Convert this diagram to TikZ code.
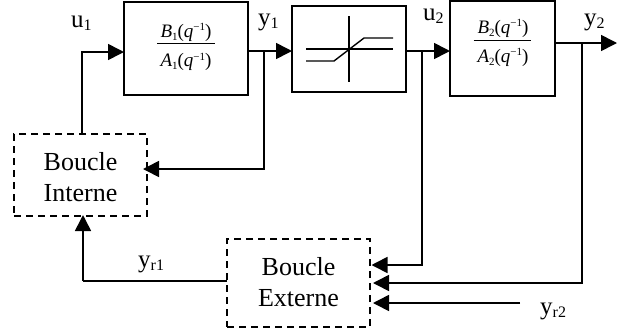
\documentclass[tikz,border=0pt]{standalone}
\usepackage{fontspec}
\setmainfont{Liberation Serif}
\usetikzlibrary{arrows.meta,calc}
\newcommand{\lowtxt}[1]{\raisebox{-3.2pt}{\fontsize{16}{16}\selectfont #1}}
\newcommand{\tf}[2]{{\fontsize{19}{20}\selectfont\itshape #1\raisebox{-3pt}{\upshape\fontsize{11}{12}\selectfont #2}\upshape(\itshape q\upshape\raisebox{6.5pt}{\fontsize{11}{12}\selectfont −1})}}
\tikzset{
  x=1pt,y=-1pt,
  solidbox/.style={draw,line width=1.5pt,minimum width=#1,inner sep=0pt,outer sep=0pt},
  dashbox/.style={draw,line width=1.5pt,dash pattern=on 7pt off 5pt,inner sep=0pt,outer sep=0pt},
  boxtxt/.style={inner sep=0pt,anchor=base,font=\fontsize{26}{30}\selectfont},
  conn/.style={line width=1.6pt},
  arr/.style={line width=1.6pt,-{Triangle[length=16pt,width=16pt]}},
  lab/.style={inner sep=0pt,anchor=base west,font=\fontsize{25}{28}\selectfont},
  fracpart/.style={inner sep=0pt,anchor=base},
}
\begin{document}
\begin{tikzpicture}
\useasboundingbox (0,0) rectangle (632,333);
\node[solidbox=124pt,minimum height=93pt] (b1) at (186,48.5) {};
\node[solidbox=114pt,minimum height=86pt] (b2) at (349,49) {};
\node[solidbox=105pt,minimum height=95pt] (b3) at (502.5,48.5) {};
\node[dashbox,minimum width=133pt,minimum height=82pt] (bi) at (80.5,175) {};
\node[dashbox,minimum width=143pt,minimum height=88pt] (be) at (298.5,283) {};
\node[boxtxt] (t1) at (80.5,170) {Boucle};
\node[boxtxt] (t2) at (80.5,201) {Interne};
\node[boxtxt] (t3) at (298.5,275) {Boucle};
\node[boxtxt] (t4) at (298.5,306) {Externe};
\node[fracpart] (n1) at (186,37) {\tf{B}{1}};
\node[fracpart] (d1) at (186,66.5) {\tf{A}{1}};
\draw[line width=0.8pt] (157,43.3) -- (215,43.3);
\node[fracpart] (n2) at (503,33) {\tf{B}{2}};
\node[fracpart] (d2) at (503,62) {\tf{A}{2}};
\draw[line width=0.8pt] (473.5,40.5) -- (531,40.5);
% saturation
\draw[line width=1.4pt] (349,16) -- (349,82);
\draw[line width=1.4pt] (306,49) -- (393,49);
\draw[line width=1.4pt] (306,61) -- (334,61) -- (364,38) -- (393,38);
% labels
\node[lab] (lu1) at (71,27) {u\lowtxt{1}};
\node[lab] (ly1) at (258,25) {y\lowtxt{1}};
\node[lab] (lu2) at (423,20) {u\lowtxt{2}};
\node[lab] (ly2) at (584,25) {y\lowtxt{2}};
\node[lab] (lyr1) at (138,267) {y\lowtxt{r1}};
\node[lab] (lyr2) at (540,314) {y\lowtxt{r2}};
% connectors
\coordinate (c1) at (82,52);
\draw[arr] (bi.north -| c1) -- (c1) -- ([yshift=-3.5pt]b1.west);
\coordinate (j1) at (264,51);
\draw[arr] (b1.east |- j1) -- (b2.west |- j1);
\draw[arr] (j1) -- (264,169) -- ([xshift=-4pt]bi.east |- 0,169);
\coordinate (j2) at (422,51);
\draw[arr] (b2.east |- j2) -- (b3.west |- j2);
\draw[arr] (j2) -- (422,265) -- ([xshift=1.5pt]be.east |- 0,265);
\coordinate (o2) at (617,43);
\draw[arr] (b3.east |- o2) -- (o2);
\coordinate (j3) at (582,43);
\draw[arr] (j3) -- (582,283) -- ([xshift=3pt]be.east |- 0,283);
\coordinate (ref) at (520,303);
\draw[arr] (ref) -- ([xshift=3pt]be.east |- ref);
\coordinate (c2) at (83,281);
\draw[conn] (be.west |- c2) -- (c2);
\draw[arr] (c2) -- ([yshift=1pt]c2 |- bi.south);
\end{tikzpicture}
\end{document}
